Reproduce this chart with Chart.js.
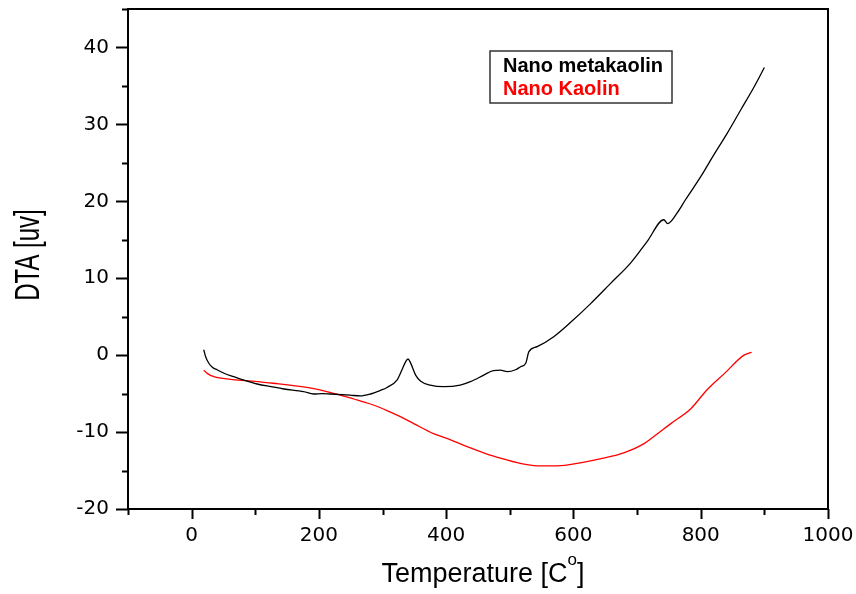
<!DOCTYPE html>
<html>
<head>
<meta charset="utf-8">
<script src="https://cdn.jsdelivr.net/npm/chart.js"></script>
<style>
    body { margin: 0; background: #fff; }
    #dtaChart { display: block; }
</style>
</head>
<body>
<canvas id="dtaChart" width="856" height="594"></canvas>
<script>
// Nano metakaolin (black curve)
var tempMeta = [19, 22, 27, 33, 40, 51, 66, 82, 103, 125, 145, 176, 192, 205, 218, 249, 265, 281, 296, 307, 323, 330, 336, 340, 344, 352, 360, 375, 396, 422, 438, 459, 474, 485, 496, 509, 517, 525, 530, 543, 569, 596, 627, 658, 690, 716, 742, 748, 763, 776, 800, 821, 842, 863, 884, 900];
var dtaMeta = [0.7, -0.2, -1.05, -1.6, -1.9, -2.35, -2.8, -3.25, -3.75, -4.1, -4.4, -4.75, -5.05, -5.0, -5.05, -5.2, -5.3, -5.05, -4.6, -4.2, -3.2, -2.0, -0.9, -0.5, -1.0, -2.6, -3.4, -3.9, -4.1, -3.9, -3.45, -2.6, -2.0, -1.95, -2.15, -1.9, -1.5, -1.05, 0.45, 1.1, 2.4, 4.3, 6.7, 9.3, 12.0, 14.8, 17.6, 17.1, 18.5, 20.2, 23.2, 26.1, 28.9, 31.9, 34.9, 37.4];

// Nano Kaolin (red curve)
var tempKaolin = [19, 25, 35, 61, 90, 128, 181, 223, 255, 281, 307, 328, 349, 380, 407, 433, 459, 485, 518, 548, 574, 611, 647, 679, 711, 726, 753, 784, 810, 837, 868, 880];
var dtaKaolin = [-1.95, -2.4, -2.8, -3.15, -3.35, -3.65, -4.2, -4.96, -5.7, -6.35, -7.2, -8.0, -8.9, -10.2, -11.0, -11.9, -12.7, -13.4, -14.1, -14.4, -14.4, -14.0, -13.4, -12.7, -11.5, -10.6, -8.9, -7.0, -4.5, -2.4, 0.0, 0.35];

var seriesNames = ['Nano metakaolin', 'Nano Kaolin'];
var seriesColors = ['#000000', '#ff0000'];

// axis ranges and tick steps
var xRange = [-100, 1000];
var yRange = [-20, 45];
var xMajorStep = 200, xMinorStep = 100;
var yMajorStep = 10, yMinorStep = 5;

function toPoints(xs, ys) {
    var pts = [];
    for (var i = 0; i < xs.length; i++) {
        pts.push({ x: xs[i], y: ys[i] });
    }
    return pts;
}

// frame, tick marks, axis titles and the legend box
var decorPlugin = {
    id: 'decor',
    afterDraw: function (chart) {
        var ctx = chart.ctx;
        var area = chart.chartArea;
        var xs = chart.scales.x, ys = chart.scales.y;
        ctx.save();
        ctx.strokeStyle = '#000';
        ctx.lineWidth = 2;
        ctx.strokeRect(area.left, area.top, area.right - area.left, area.bottom - area.top);

        // x ticks (outward)
        ctx.beginPath();
        xs.ticks.forEach(function (t) {
            var px = Math.round(xs.getPixelForValue(t.value)) + 0.5;
            var len = (t.value % xMajorStep === 0) ? 10 : 6;
            ctx.moveTo(px, area.bottom);
            ctx.lineTo(px, area.bottom + len);
        });
        // y ticks (outward)
        ys.ticks.forEach(function (t) {
            var py = Math.round(ys.getPixelForValue(t.value)) + 0.5;
            var len = (t.value % yMajorStep === 0) ? 12 : 6;
            ctx.moveTo(area.left, py);
            ctx.lineTo(area.left - len, py);
        });
        ctx.stroke();

        // y title, glyphs stretched like the original
        ctx.fillStyle = '#000';
        ctx.save();
        ctx.translate(39, 255);
        ctx.rotate(-Math.PI / 2);
        ctx.scale(1, 1.45);
        ctx.font = '24px "Liberation Sans"';
        ctx.textAlign = 'center';
        ctx.textBaseline = 'alphabetic';
        ctx.fillText('DTA [uv]', 0, 0);
        ctx.restore();

        // x title with superscript o
        var main = 'Temperature [C', sup = 'o', close = ']';
        ctx.textBaseline = 'alphabetic';
        ctx.textAlign = 'left';
        ctx.font = '27px "Liberation Sans"';
        var w1 = ctx.measureText(main).width;
        var w3 = ctx.measureText(close).width;
        ctx.font = '17px "Liberation Sans"';
        var w2 = ctx.measureText(sup).width;
        var x0 = 483 - (w1 + w2 + w3) / 2;
        ctx.font = '27px "Liberation Sans"';
        ctx.fillText(main, x0, 582);
        ctx.fillText(close, x0 + w1 + w2, 582);
        ctx.font = '17px "Liberation Sans"';
        ctx.fillText(sup, x0 + w1, 565);

        // legend box
        ctx.lineWidth = 1.5;
        ctx.strokeStyle = '#333';
        ctx.strokeRect(490, 51, 182, 52);
        ctx.font = 'bold 20px "Liberation Sans"';
        ctx.fillStyle = seriesColors[0];
        ctx.fillText(seriesNames[0], 503, 72);
        ctx.fillStyle = seriesColors[1];
        ctx.fillText(seriesNames[1], 503, 95);
        ctx.restore();
    }
};

var chartData = {
    datasets: [
        {
            label: seriesNames[0],
            data: toPoints(tempMeta, dtaMeta),
            borderColor: seriesColors[0],
            borderWidth: 1.3,
            pointRadius: 0,
            cubicInterpolationMode: 'monotone',
            fill: false
        },
        {
            label: seriesNames[1],
            data: toPoints(tempKaolin, dtaKaolin),
            borderColor: seriesColors[1],
            borderWidth: 1.3,
            pointRadius: 0,
            cubicInterpolationMode: 'monotone',
            fill: false
        }
    ]
};

var chartOptions = {
    responsive: false,
    animation: false,
    layout: { padding: { top: 9, right: 28, left: 0, bottom: 0 } },
    plugins: {
        legend: { display: false },
        tooltip: { enabled: false }
    },
    scales: {
        x: {
            type: 'linear',
            min: xRange[0],
            max: xRange[1],
            grid: { display: false, drawTicks: false },
            border: { display: false },
            ticks: {
                stepSize: xMinorStep,
                autoSkip: false,
                maxRotation: 0,
                padding: 15,
                color: '#000',
                font: { family: 'DejaVu Sans', size: 20 },
                callback: function (v) { return v % xMajorStep === 0 ? String(v) : ''; }
            },
            afterFit: function (scale) {
                scale.height = 85;
                scale.paddingLeft = 0;
                scale.paddingRight = 0;
            }
        },
        y: {
            min: yRange[0],
            max: yRange[1],
            grid: { display: false, drawTicks: false },
            border: { display: false },
            ticks: {
                stepSize: yMinorStep,
                autoSkip: false,
                padding: 19,
                color: '#000',
                font: { family: 'DejaVu Sans', size: 20 },
                callback: function (v) { return v % yMajorStep === 0 ? String(v) : ''; }
            },
            afterFit: function (scale) {
                scale.width = 128;
                scale.paddingTop = 0;
                scale.paddingBottom = 0;
            }
        }
    }
};

document.addEventListener('DOMContentLoaded', function () {
    var canvas = document.getElementById('dtaChart').getContext('2d');
    new Chart(canvas, {
        type: 'line',
        data: chartData,
        options: chartOptions,
        plugins: [decorPlugin]
    });
});
</script>
</body>
</html>
